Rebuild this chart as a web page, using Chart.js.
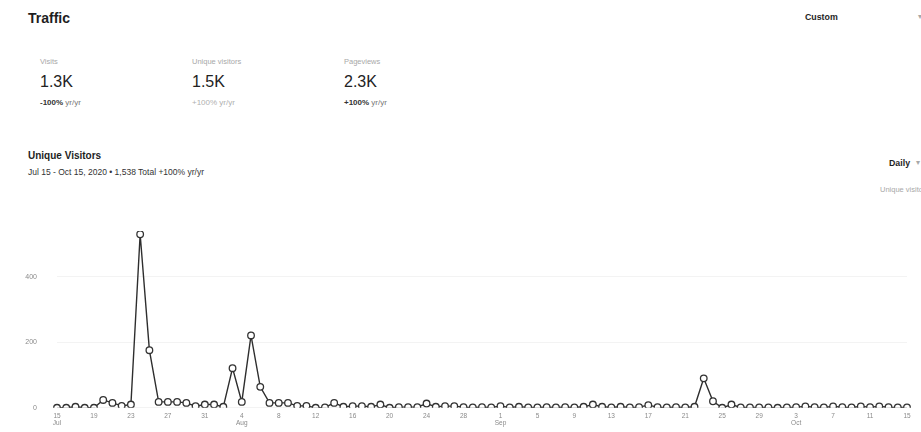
<!DOCTYPE html>
<html>
<head>
<meta charset="utf-8">
<script src="https://cdn.jsdelivr.net/npm/chart.js@4"></script>
<style>
  html, body { margin: 0; padding: 0; background: #fff; }
  body { width: 921px; height: 432px; position: relative; overflow: hidden;
         font-family: "Liberation Sans", Arial, sans-serif; color: #1e1e1e; }
  .t { position: absolute; white-space: nowrap; }
  .h1 { font-size: 14px; font-weight: bold; }
  .lbl { font-size: 7.5px; color: #a8a8a8; }
  .num { font-size: 16px; color: #222; }
  .chg { font-size: 8px; color: #777; }
  .chg b { color: #333; }
  .light { color: #b0b0b0; }
  .h2 { font-size: 10px; font-weight: bold; }
  .sub { font-size: 8.5px; color: #333; }
  .btn { font-size: 8.8px; font-weight: bold; }
  #wrap { position: absolute; left: 0; top: 200px; width: 921px; height: 232px; }
</style>
</head>
<body>
<div class="t h1" style="left:28px;top:10px;">Traffic</div>
<div class="t btn" style="left:805px;top:12px;">Custom</div>
<div class="t lbl" style="left:918px;top:12px;">▾</div>

<div class="t lbl" style="left:40px;top:57px;">Visits</div>
<div class="t num" style="left:40px;top:73px;">1.3K</div>
<div class="t chg" style="left:40px;top:98px;"><b>-100%</b> yr/yr</div>

<div class="t lbl" style="left:192px;top:57px;">Unique visitors</div>
<div class="t num" style="left:192px;top:73px;">1.5K</div>
<div class="t chg light" style="left:192px;top:98px;">+100% yr/yr</div>

<div class="t lbl" style="left:344px;top:57px;">Pageviews</div>
<div class="t num" style="left:344px;top:73px;">2.3K</div>
<div class="t chg" style="left:344px;top:98px;"><b>+100%</b> yr/yr</div>

<div class="t h2" style="left:28px;top:150px;">Unique Visitors</div>
<div class="t sub" style="left:28px;top:167px;">Jul 15 - Oct 15, 2020 • 1,538 Total +100% yr/yr</div>
<div class="t btn" style="left:889px;top:158px;">Daily</div>
<div class="t lbl" style="left:916px;top:158px;">▾</div>
<div class="t lbl" style="left:880px;top:185px;">Unique visitors</div>

<div id="wrap"><canvas id="visitsChart"></canvas></div>

<script>
const dates = [
  'Jul 15','Jul 16','Jul 17','Jul 18','Jul 19','Jul 20','Jul 21','Jul 22','Jul 23','Jul 24',
  'Jul 25','Jul 26','Jul 27','Jul 28','Jul 29','Jul 30','Jul 31',
  'Aug 1','Aug 2','Aug 3','Aug 4','Aug 5','Aug 6','Aug 7','Aug 8','Aug 9','Aug 10',
  'Aug 11','Aug 12','Aug 13','Aug 14','Aug 15','Aug 16','Aug 17','Aug 18','Aug 19','Aug 20',
  'Aug 21','Aug 22','Aug 23','Aug 24','Aug 25','Aug 26','Aug 27','Aug 28','Aug 29','Aug 30','Aug 31',
  'Sep 1','Sep 2','Sep 3','Sep 4','Sep 5','Sep 6','Sep 7','Sep 8','Sep 9','Sep 10',
  'Sep 11','Sep 12','Sep 13','Sep 14','Sep 15','Sep 16','Sep 17','Sep 18','Sep 19','Sep 20',
  'Sep 21','Sep 22','Sep 23','Sep 24','Sep 25','Sep 26','Sep 27','Sep 28','Sep 29','Sep 30',
  'Oct 1','Oct 2','Oct 3','Oct 4','Oct 5','Oct 6','Oct 7','Oct 8','Oct 9','Oct 10',
  'Oct 11','Oct 12','Oct 13','Oct 14','Oct 15'
];

const uniqueVisitors = [
  0, 0, 3, 0, 0, 24, 15, 6, 10, 530,
  176, 18, 18, 18, 15, 5, 10, 10, 3, 121,
  18, 221, 64, 15, 15, 15, 6, 6, 0, 1,
  15, 3, 5, 5, 3, 10, 0, 2, 2, 2,
  13, 3, 5, 5, 2, 1, 2, 1, 5, 1,
  3, 1, 1, 2, 1, 2, 1, 3, 10, 3,
  1, 3, 1, 2, 8, 2, 1, 2, 1, 3,
  90, 20, 0, 10, 1, 1, 1, 1, 0, 1,
  2, 4, 2, 1, 4, 2, 1, 4, 2, 4,
  2, 1, 1
];

const yTicks = [0, 200, 400];
const tickEvery = 4;

// x labels: day number every 4 days, month name under the first one of each month
function xLabel(i) {
  if (i % tickEvery !== 0) return '';
  const [mon, day] = dates[i].split(' ');
  const prev = i - tickEvery >= 0 ? dates[i - tickEvery].split(' ')[0] : null;
  return prev !== mon ? [day, mon] : day;
}

new Chart(document.getElementById('visitsChart'), {
  type: 'line',
  data: {
    labels: dates,
    datasets: [{
      label: 'Unique visitors',
      data: uniqueVisitors,
      borderColor: '#2e2e2e',
      borderWidth: 1.4,
      backgroundColor: '#fff',
      pointBackgroundColor: '#fff',
      pointBorderColor: '#333',
      pointBorderWidth: 1.3,
      pointRadius: 3.3,
      tension: 0
    }]
  },
  options: {
    responsive: true,
    maintainAspectRatio: false,
    animation: false,
    layout: { padding: { top: 31, right: 14, left: 0, bottom: 0 } },
    plugins: { legend: { display: false }, tooltip: { enabled: false } },
    scales: {
      x: {
        grid: { display: false, drawTicks: false },
        border: { display: false },
        afterFit: (s) => { s.height = 23; },
        ticks: {
          autoSkip: false,
          maxRotation: 0,
          padding: 5,
          color: '#8a8a8a',
          font: { size: 6.5, family: 'Liberation Sans', lineHeight: 1.1 },
          callback: (v, i) => xLabel(i)
        }
      },
      y: {
        min: 0,
        max: 540,
        afterBuildTicks: (s) => { s.ticks = yTicks.map(v => ({ value: v })); },
        afterFit: (s) => { s.width = 57; },
        grid: { color: '#f3f3f3', drawTicks: false },
        border: { display: false },
        ticks: {
          padding: 20,
          color: '#8a8a8a',
          font: { size: 7, family: 'Liberation Sans' }
        }
      }
    }
  }
});
</script>
</body>
</html>
